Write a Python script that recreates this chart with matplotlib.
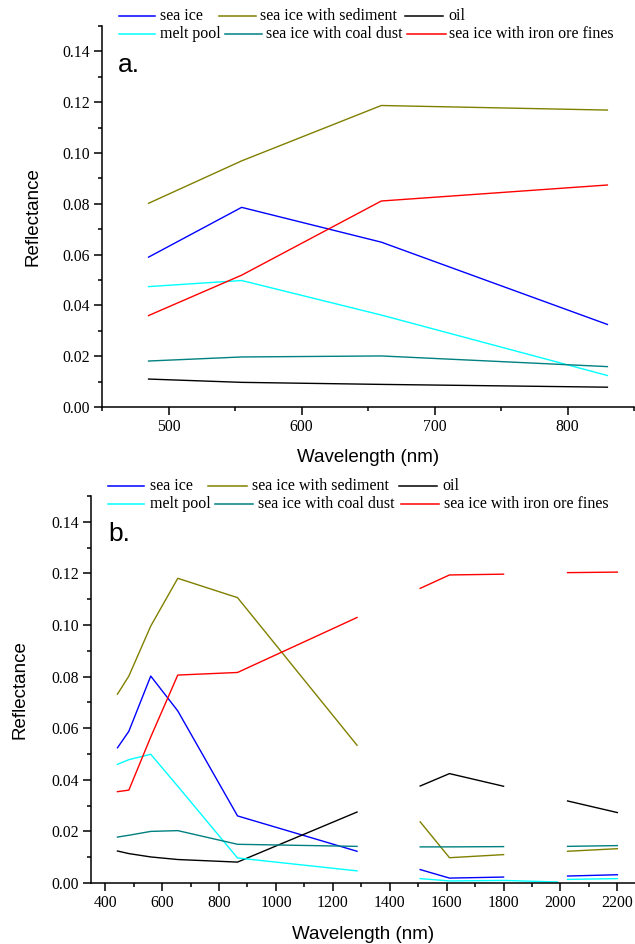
import numpy as np
import matplotlib
matplotlib.use('Agg')
import matplotlib.pyplot as plt
from matplotlib.lines import Line2D
from matplotlib.ticker import MultipleLocator, FormatStrFormatter

# Data
names   = ['sea ice', 'sea ice with sediment', 'oil',
           'melt pool', 'sea ice with coal dust', 'sea ice with iron ore fines']
colors  = ['#0000ff', '#808000', '#000000', '#00ffff', '#008080', '#ff0000']

# panel a
wl_a        = [485, 555, 660, 830]
sea_ice_a   = [0.0590, 0.0786, 0.0649, 0.0325]
sediment_a  = [0.0802, 0.0969, 0.1187, 0.1169]
oil_a       = [0.0110, 0.0097, 0.0089, 0.0078]
melt_a      = [0.0474, 0.0498, 0.0362, 0.0124]
coal_a      = [0.0181, 0.0197, 0.0201, 0.0159]
iron_a      = [0.0360, 0.0519, 0.0811, 0.0874]

# panel b (nan = gap in the spectrum)
nan = np.nan
wl_b        = [443, 483, 560, 655, 865, 1285, 1400, 1507, 1610, 1800, 1990, 2000, 2025, 2200]
sea_ice_b   = [0.0524, 0.0588, 0.0802, 0.0667, 0.0260, 0.0123, nan, 0.0052, 0.0019, 0.0023, nan, nan, 0.0027, 0.0032]
sediment_b  = [0.0732, 0.0802, 0.0996, 0.1181, 0.1106, 0.0534, nan, 0.0237, 0.0098, 0.0110, nan, nan, 0.0123, 0.0133]
oil_b       = [0.0124, 0.0114, 0.0101, 0.0091, 0.0081, 0.0275, nan, 0.0376, 0.0424, 0.0375, nan, nan, 0.0318, 0.0273]
melt_b      = [0.0460, 0.0478, 0.0499, 0.0375, 0.0097, 0.0047, nan, 0.0017, 0.0008, 0.0010, 0.0004, nan, 0.0014, 0.0017]
coal_b      = [0.0178, 0.0185, 0.0200, 0.0203, 0.0150, 0.0142, nan, 0.0140, 0.0140, 0.0141, nan, nan, 0.0142, 0.0145]
iron_b      = [0.0354, 0.0360, 0.0566, 0.0806, 0.0816, 0.1029, nan, 0.1142, 0.1194, 0.1197, nan, nan, 0.1203, 0.1205]

W, H = 635, 944
fig = plt.figure(figsize=(W/100, H/100), dpi=100)

serif = 'Liberation Serif'
sans  = 'Liberation Sans'

def make_axes(l, r, b, t):
    return fig.add_axes([l/W, 1 - b/H, (r-l)/W, (b-t)/H])

def style(ax, xmaj, xmin):
    for s in ['top', 'right']:
        ax.spines[s].set_visible(False)
    for s in ['left', 'bottom']:
        ax.spines[s].set_linewidth(1.1)
    ax.set_ylim(0, 0.15)
    ax.yaxis.set_major_locator(MultipleLocator(0.02))
    ax.yaxis.set_minor_locator(MultipleLocator(0.01))
    ax.yaxis.set_major_formatter(FormatStrFormatter('%.2f'))
    ax.xaxis.set_major_locator(MultipleLocator(xmaj))
    ax.xaxis.set_minor_locator(MultipleLocator(xmin))
    ax.tick_params(which='major', direction='out', length=5.8, width=1.1, pad=3,
                   labelsize=11.3)
    ax.tick_params(which='minor', direction='out', length=3, width=1.1)
    for lab in ax.get_xticklabels() + ax.get_yticklabels():
        lab.set_fontfamily(serif)
    ax.set_xlabel('Wavelength (nm)', fontfamily=sans, fontsize=13.5)
    ax.set_ylabel('Reflectance', fontfamily=sans, fontsize=13.5)

def legend(rows_y, row1, row2):
    # row entries: (handle start, handle end, text x)
    for y, row, idx in [(rows_y[0], row1, [0, 1, 2]), (rows_y[1], row2, [3, 4, 5])]:
        for (x0, x1, xt), i in zip(row, idx):
            fig.add_artist(Line2D([x0/W, x1/W], [1 - y/H, 1 - y/H], color=colors[i], lw=1.1))
            fig.text(xt/W, 1 - y/H, names[i], fontfamily=serif, fontsize=11.5,
                     va='center', ha='left')

# panel a
ax1 = make_axes(102, 634, 407, 26)
series_a = [sea_ice_a, sediment_a, oil_a, melt_a, coal_a, iron_a]
for vals, c in zip(series_a, colors):
    ax1.plot(wl_a, vals, color=c, lw=1)
ax1.set_xlim(450, 850)
style(ax1, 100, 50)
ax1.xaxis.set_label_coords(0.5, -0.11)
ax1.yaxis.set_label_coords(-0.113, 0.5)
ax1.text(462, 0.1348, 'a.', fontfamily=sans, fontsize=19, va='center', ha='left')
legend((16, 34),
       [(119, 155, 160), (219, 256, 260), (405, 443, 448)],
       [(119, 155, 160), (225, 262, 266), (407, 446, 449)])

# panel b
ax2 = make_axes(91, 635, 883, 496)
series_b = [sea_ice_b, sediment_b, oil_b, melt_b, coal_b, iron_b]
for vals, c in zip(series_b, colors):
    ax2.plot(wl_b, vals, color=c, lw=1)
ax2.set_xlim(350, 2262)
style(ax2, 200, 100)
ax2.xaxis.set_label_coords(0.5, -0.11)
ax2.yaxis.set_label_coords(-0.114, 0.5)
ax2.text(410, 0.1352, 'b.', fontfamily=sans, fontsize=19, va='center', ha='left')
legend((486, 504),
       [(108, 144, 150), (208, 247, 252), (399, 437, 442)],
       [(108, 144, 150), (215, 253, 258), (401, 439, 444)])

plt.savefig('out.png', dpi=100)
